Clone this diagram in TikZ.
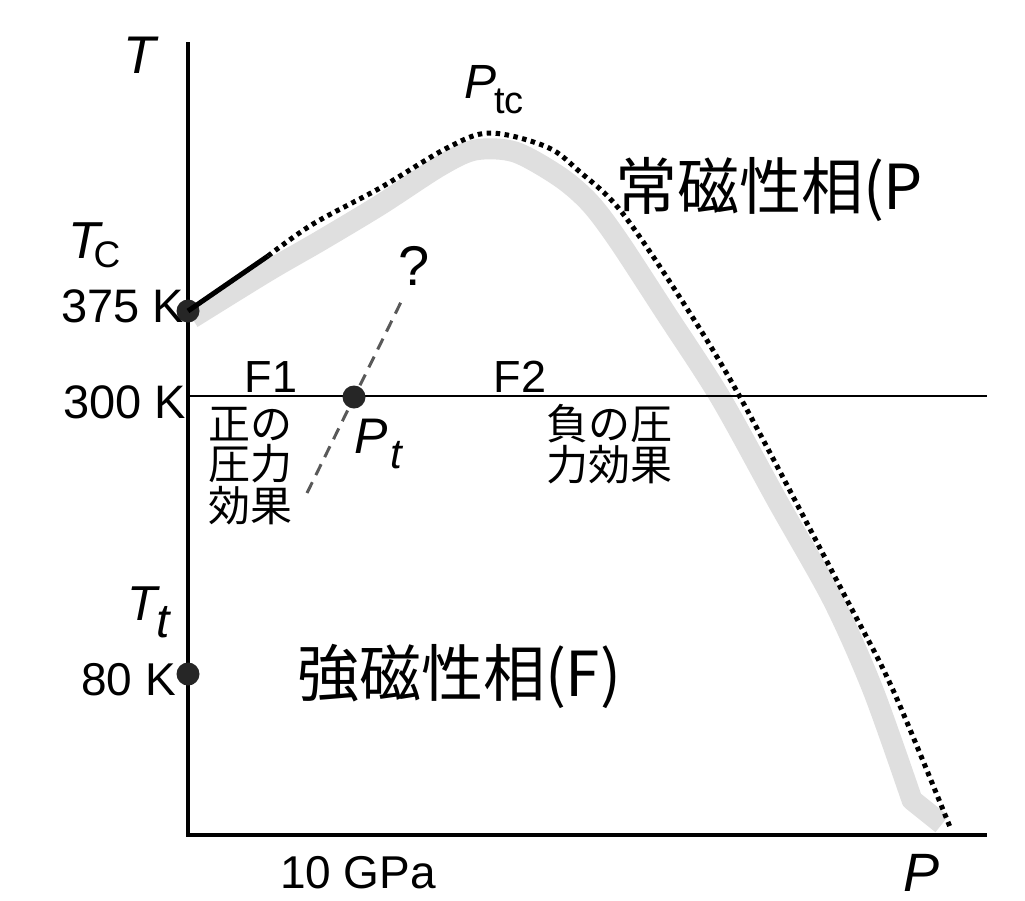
\documentclass[tikz,border=0pt]{standalone}
\usepackage{fontspec}
\setmainfont{Liberation Sans}
\newfontfamily\cjk{Noto Sans CJK JP}
\newcommand\fsz[1]{\fontsize{#1}{#1}\selectfont}
\begin{document}
\begin{tikzpicture}[x=1pt,y=-1pt,
  lbl/.style={inner sep=0pt, outer sep=0pt},
  axisline/.style={line width=4pt},
  refline/.style={line width=1.8pt},
  band/.style={line width=21pt, gray!25, line join=round},
  dotcurve/.style={line width=5pt, dash pattern=on 4.5pt off 4.5pt},
  solidseg/.style={line width=5pt},
  guess/.style={line width=3pt, black!65, dash pattern=on 12pt off 8pt},
  dotnode/.style={circle, fill=black!85, minimum size=23pt, inner sep=0pt}]
\useasboundingbox (0,0) rectangle (1025,900);
% grey band
\draw[band] plot[smooth, tension=0.5] coordinates {(192,318) (268,271) (320,241) (380,205) (440,166) (475,150) (515,152) (560,177) (590,203) (618,240) (665,312) (720,397) (778,502) (833,600) (873,690) (912,800)} -- (942,824);
% axes
\coordinate (ytop) at (188,42);
\coordinate (xend) at (987,835);
\draw[axisline] (ytop) -- (188,837);
\draw[axisline] (186,835) -- (xend);
% 300 K line
\coordinate (r300) at (188,396);
\coordinate (r300e) at (987,396);
\draw[refline] (r300) -- (r300e);
% dots
\node[dotnode] (d375) at (188,311) {};
\node[dotnode] (d80) at (188,674) {};
% solid then dotted boundary
\coordinate (sEnd) at (268,256);
\draw[solidseg] (d375.center) -- (sEnd);
\draw[dotcurve] plot[smooth, tension=0.55] coordinates {(268,256) (313,224) (380,188) (447,148) (490,133) (547,147) (580,172) (620,210) (677,293) (740,397) (847,600) (893,690) (950,827)};
% dashed guess line
\coordinate (gLow) at (307,493);
\coordinate (gHigh) at (402,300);
\draw[guess] (gLow) -- (gHigh);
\node[dotnode] (dPt) at (354,397) {};
% labels
\node[lbl, anchor=base] (lT) at (140,73) {\fsz{53}\itshape T};
\node[lbl, anchor=base] (lTC) at (84,258) {\fsz{52}\itshape T};
\node[lbl, anchor=base] (lTCs) at (107,267) {\fsz{37}C};
\node[lbl, anchor=base east] (l375) at (184,322) {\fsz{47}375 K};
\node[lbl, anchor=base east] (l300) at (186,418) {\fsz{47}300 K};
\node[lbl, anchor=base] (lF1) at (271,392) {\fsz{45}F1};
\node[lbl, anchor=base] (lF2) at (520,392) {\fsz{45}F2};
\node[lbl, anchor=base west] (lpos1) at (208,439) {\cjk\fsz{42}正の};
\node[lbl, anchor=base west] (lpos2) at (208,479) {\cjk\fsz{42}圧力};
\node[lbl, anchor=base west] (lpos3) at (208,521) {\cjk\fsz{42}効果};
\node[lbl, anchor=base west] (lneg1) at (546,439) {\cjk\fsz{42}負の圧};
\node[lbl, anchor=base west] (lneg2) at (546,480) {\cjk\fsz{42}力効果};
\node[lbl, anchor=base] (lPt) at (371,453) {\fsz{50}\itshape P};
\node[lbl, anchor=base] (lPts) at (396,468) {\fsz{42}\itshape t};
\node[lbl, anchor=base] (lq) at (414,285) {\fsz{56}?};
\node[lbl, anchor=base] (lPtc) at (481,98) {\fsz{48}\itshape P};
\node[lbl, anchor=base] (lPtcs) at (509,113) {\fsz{38}tc};
\node[lbl, anchor=base west] (lpara) at (615,209) {\cjk\fsz{62}常磁性相(P};
\node[lbl, anchor=base] (lTt) at (142,620) {\fsz{49}\itshape T};
\node[lbl, anchor=base] (lTts) at (163,637) {\fsz{48}\itshape t};
\node[lbl, anchor=base east] (l80) at (176,695) {\fsz{46}80 K};
\node[lbl, anchor=base west] (lferro) at (297,696) {\cjk\fsz{62}強磁性相(F)};
\node[lbl, anchor=base] (l10) at (358,888) {\fsz{46}10 GPa};
\node[lbl, anchor=base] (lP) at (921,891) {\fsz{54}\itshape P};
\end{tikzpicture}
\end{document}
